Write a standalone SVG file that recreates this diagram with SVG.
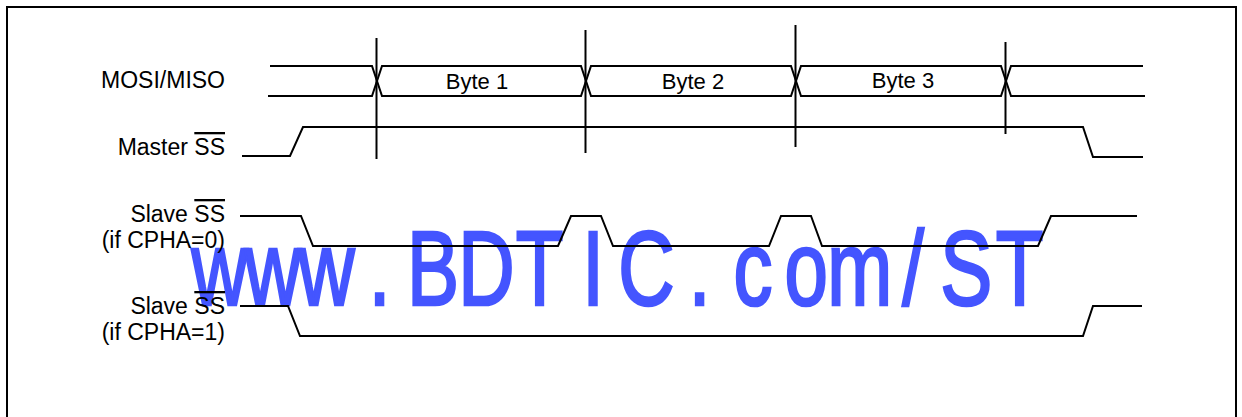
<svg xmlns="http://www.w3.org/2000/svg" width="1242" height="417" viewBox="0 0 1242 417">
<style>
.lbl{font-family:"Liberation Sans",Arial,sans-serif;font-size:22px;fill:#000}
.big{font-size:23px}
.r{text-anchor:end}
.c{text-anchor:middle}
.ov{text-decoration:overline}
.sig{fill:none;stroke:#000;stroke-width:2;stroke-linejoin:miter}
.mk{stroke:#000;stroke-width:2}
.wm{font-family:"Liberation Sans",Arial,sans-serif;font-size:78px;fill:#4455FF;stroke:#4455FF;stroke-width:2;text-anchor:middle}
</style>
<rect x="7" y="7" width="1229" height="430" fill="#fff" stroke="#000" stroke-width="2"/>
<g id="watermark">
<text class="wm" transform="translate(0,304.5) scale(1,1.36)" x="219.7 273 326.4 379.7 433 486.4 539.7 593 646.4 699.7 753 806.3 859.7 913 966.3 1019.7" y="0">www.BDTIC.com/ST</text>
</g>
<g id="labels">
<g id="label-mosi"><text class="lbl big r" x="225" y="88">MOSI/MISO</text></g>
<g id="label-master"><text class="lbl big r" x="225" y="155">Master <tspan class="ov">SS</tspan></text></g>
<g id="label-slave0"><text class="lbl big r" x="225" y="222">Slave <tspan class="ov">SS</tspan></text><text class="lbl big r" x="225" y="248">(if CPHA=0)</text></g>
<g id="label-slave1"><text class="lbl big r" x="225" y="314">Slave <tspan class="ov">SS</tspan></text><text class="lbl big r" x="225" y="340">(if CPHA=1)</text></g>
</g>
<g id="bytes">
<g id="byte1"><text class="lbl c" x="477" y="89">Byte 1</text></g>
<g id="byte2"><text class="lbl c" x="693" y="88.5">Byte 2</text></g>
<g id="byte3"><text class="lbl c" x="903" y="87.5">Byte 3</text></g>
</g>
<g id="connectors">
<path class="sig" d="M270,66 H372 L382,96 H581 L591,66 H791 L801,96 H1001 L1011,66 H1143"/>
<path class="sig" d="M268,96 H372 L382,66 H581 L591,96 H791 L801,66 H1001 L1011,96 H1145"/>
<path class="sig" d="M242,156 H290 L303,127 H1083 L1093,157 H1143"/>
<path class="sig" d="M240,216 H301 L313,246 H558 L571,216 H601 L613,246 H769 L781,216 H811 L822,246 H1038 L1051,216 H1137"/>
<path class="sig" d="M240,306 H288 L300,336 H1083 L1093,306 H1142"/>
<line class="mk" x1="376.5" y1="38" x2="376.5" y2="159"/>
<line class="mk" x1="585.5" y1="30" x2="585.5" y2="153"/>
<line class="mk" x1="795.5" y1="25" x2="795.5" y2="147"/>
<line class="mk" x1="1005.5" y1="42" x2="1005.5" y2="134"/>
</g>
</svg>
